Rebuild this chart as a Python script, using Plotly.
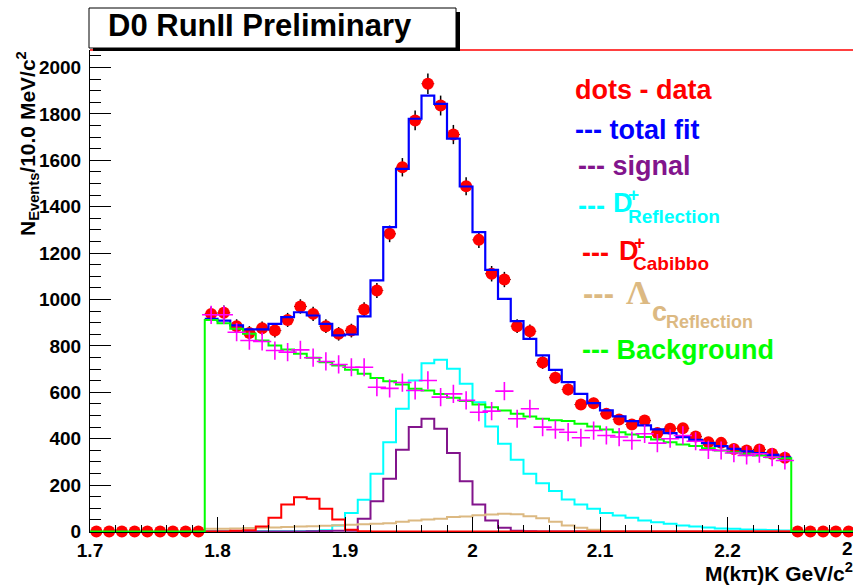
import math
import plotly.graph_objects as go

# ---------------- data ----------------
bin_width = 0.01
full_lo = 1.70                      # first bin edge of the data histogram
fit_lo = 1.79                       # first bin edge of the fitted range

# data counts, 60 bins from 1.70 to 2.30
data_counts = [0, 0, 0, 0, 0, 0, 0, 0, 0,
               938, 943, 885, 856, 876, 866, 912, 970, 938, 885,
               852, 866, 957, 1039, 1283, 1570, 1772, 1930, 1836, 1711,
               1488, 1257, 1111, 1086, 885, 863, 728, 663, 612, 547,
               553, 507, 483, 461, 478, 424, 443, 445, 409, 385,
               382, 356, 349, 353, 335, 318,
               0, 0, 0, 0, 0]

# fitted components, 46 bins from 1.79 to 2.25
total_fit = [917, 909, 888, 871, 871, 895, 924, 945, 931, 895,
             845, 849, 927, 1082, 1312, 1563, 1779, 1879, 1843, 1693,
             1487, 1290, 1128, 1003, 907, 830, 759, 697, 644, 593,
             553, 522, 496, 476, 457, 440, 424, 407, 395, 381,
             368, 356, 345, 338, 330, 320]

signal = [0, 0, 0, 0, 0, 0, 0, 0, 1, 2,
          3, 3, 55, 130, 227, 352, 450, 486, 443, 338,
          217, 116, 47, 16, 3, 1, 0, 0, 0, 0,
          0, 0, 0, 0, 0, 0, 0, 0, 0, 0,
          0, 0, 0, 0, 0, 0]

dplus_reflection = [0, 0, 1, 1, 1, 1, 1, 1, 2, 5,
                    26, 80, 137, 249, 385, 529, 651, 725, 740, 701,
                    637, 557, 453, 378, 309, 249, 208, 175, 138, 116,
                    98, 80, 69, 59, 47, 40, 33, 26, 22, 17,
                    13, 12, 9, 7, 6, 4]

dplus_cabibbo = [0, 0, 3, 5, 22, 59, 116, 148, 141, 98,
                 52, 7, 1, 0, 0, 0, 0, 0, 0, 0,
                 0, 0, 0, 0, 0, 0, 0, 0, 0, 0,
                 0, 0, 0, 0, 0, 0, 0, 0, 0, 0,
                 0, 0, 0, 0, 0, 0]

lambda_c_reflection = [12, 12, 13, 15, 16, 17, 19, 21, 23, 25,
                       27, 29, 31, 33, 35, 42, 47, 52, 55, 62,
                       65, 70, 73, 76, 74, 66, 57, 42, 26, 16,
                       7, 2, 0, 0, 0, 0, 0, 0, 0, 0,
                       0, 0, 0, 0, 0, 0]

# background, 60 bins from 1.70 to 2.30 (zero outside the fit range)
background = [0, 0, 0, 0, 0, 0, 0, 0, 0,
              912, 898, 874, 852, 823, 802, 784, 766, 749, 730,
              716, 697, 680, 662, 648, 634, 615, 608, 593, 576,
              562, 547, 536, 522, 507, 496, 486, 480, 476, 464,
              453, 440, 428, 418, 407, 397, 385, 375, 368, 359,
              349, 342, 335, 328, 320, 316,
              0, 0, 0, 0, 0]

# background-subtracted points (magenta crosses), 46 bins from 1.79
subtracted = [934, 934, 859, 823, 819, 780, 773, 783, 749, 733,
              720, 708, 708, 622, 617, 642, 608, 651, 579, 593,
              565, 514, 519, 605, 486, 529, 450, 439, 428, 404,
              435, 414, 407, 392, 421, 381, 400, 414, 389, 352,
              349, 338, 328, 335, 320, 306]

x_tick_vals = [1.7, 1.8, 1.9, 2.0, 2.1, 2.2]
x_tick_text = ["1.7", "1.8", "1.9", "2", "2.1", "2.2"]
y_tick_vals = [0, 200, 400, 600, 800, 1000, 1200, 1400, 1600, 1800, 2000]

# ---------------- layout geometry ----------------
W, H = 853, 586
L, R, T, B = 90, 0, 50, 54
X_RANGE = [1.70, 1.70 + (W - L - R) / 1275.0]
Y_RANGE = [-2.2, 2075.4]

FONT = "Liberation Sans"
RED, BLUE, PURPLE = "#ff0000", "#0000ff", "#82148c"
CYAN, TAN, GREEN, MAGENTA = "#00ffff", "#dcb982", "#00ff00", "#ff00ff"


def px(xp):
    return (xp - L) / (W - L - R)


def py(yp):
    return (H - B - yp) / (H - T - B)


def centers(lo, n):
    return [lo + bin_width * (i + 0.5) for i in range(n)]


def step(lo, vals):
    xs = [lo + bin_width * i for i in range(len(vals) + 1)]
    ys = list(vals) + [vals[-1]]
    return xs, ys


fig = go.Figure()

# data points with errors
xc_full = centers(full_lo, len(data_counts))
fig.add_trace(go.Scatter(
    x=xc_full, y=data_counts, mode="markers",
    marker=dict(color=RED, size=12, line=dict(width=0)),
    error_y=dict(type="data", array=[math.sqrt(v) for v in data_counts],
                 color="black", thickness=1.5, width=0),
    error_x=dict(type="data", array=[bin_width / 2 if v > 0 else 0 for v in data_counts],
                 color="black", thickness=1, width=0),
    cliponaxis=False, showlegend=False))

def add_hist(lo, vals, color, width=2):
    xs, ys = step(lo, vals)
    fig.add_trace(go.Scatter(x=xs, y=ys, mode="lines", line_shape="hv",
                             line=dict(color=color, width=width),
                             showlegend=False, hoverinfo="skip"))

add_hist(fit_lo, total_fit, BLUE, 2.2)
add_hist(fit_lo, dplus_reflection, CYAN, 2)
add_hist(fit_lo, signal, PURPLE, 2)
add_hist(fit_lo, lambda_c_reflection, TAN, 2)
add_hist(fit_lo, dplus_cabibbo, RED, 2)
add_hist(full_lo, background, GREEN, 2)

fig.add_trace(go.Scatter(
    x=centers(fit_lo, len(subtracted)), y=subtracted, mode="markers",
    marker=dict(symbol="cross-thin", size=13, line=dict(color=MAGENTA, width=1.6)),
    cliponaxis=False, showlegend=False))

# ---------------- axes ----------------
tickfont = dict(family=FONT, size=19, color="black", weight="bold")
fig.update_xaxes(range=X_RANGE, showgrid=False, zeroline=False,
                 showline=True, linecolor="black", linewidth=1, mirror=False,
                 tickmode="array", tickvals=x_tick_vals, ticktext=x_tick_text,
                 ticks="inside", ticklen=15, tickwidth=1, tickcolor="black",
                 minor=dict(dtick=0.02, tick0=1.7, ticks="inside", ticklen=7,
                            tickwidth=1, tickcolor="black", showgrid=False),
                 tickfont=tickfont, ticklabelstandoff=1)
fig.update_yaxes(range=Y_RANGE, showgrid=False, zeroline=False,
                 showline=True, linecolor="black", linewidth=1,
                 tickmode="array", tickvals=y_tick_vals,
                 ticks="inside", ticklen=21, tickwidth=1, tickcolor="black",
                 minor=dict(dtick=50, tick0=0, ticks="inside", ticklen=11,
                            tickwidth=1, tickcolor="black", showgrid=False),
                 tickfont=tickfont, ticklabelstandoff=4)

# ---------------- decorations ----------------
shapes = [
    # red top frame line
    dict(type="line", xref="paper", yref="paper", x0=px(90), x1=px(853),
         y0=py(50), y1=py(50), line=dict(color=RED, width=1.5)),
    # title box shadow
    dict(type="rect", xref="paper", yref="paper", x0=px(93), x1=px(460),
         y0=py(51), y1=py(12), fillcolor="black", line=dict(width=0)),
    # title box
    dict(type="rect", xref="paper", yref="paper", x0=px(89), x1=px(456),
         y0=py(48), y1=py(8), fillcolor="white",
         line=dict(color="black", width=1)),
]

annotations = []

def ann(text, x, y, color="black", size=26, xanchor="left", yanchor="middle",
        family=FONT, weight="bold", angle=0):
    annotations.append(dict(text=text, x=px(x), y=py(y), xref="paper", yref="paper",
                            xanchor=xanchor, yanchor=yanchor, showarrow=False,
                            textangle=angle, borderpad=0,
                            font=dict(family=family, size=size, color=color,
                                      weight=weight)))

ann("D0 RunII Preliminary", 107, 26, size=31)

# legend block
ann("dots - data", 574, 90, RED, 27)
ann("--- total fit", 574, 130, BLUE, 27)
ann("--- signal", 577, 166, PURPLE, 27)
ann("---", 577, 206, CYAN, 27)
ann("D", 612, 203, CYAN, 27)
ann("+", 633, 194, CYAN, 19, xanchor="center")
ann("Reflection", 627, 216, CYAN, 19)
ann("---", 581, 253, RED, 27)
ann("D", 618, 251, RED, 27)
ann("+", 639, 242, RED, 19, xanchor="center")
ann("Cabibbo", 632, 263, RED, 19)
ann("---", 582, 293, TAN, 31)
ann("Λ", 625, 292, TAN, 34, family="Liberation Serif", weight="bold")
ann("c", 651, 312, TAN, 27)
ann("Reflection", 665, 322, TAN, 18)
ann("--- Background", 581, 350, GREEN, 27)

# axis titles
ann("M(kπ)K GeV/c<sup>2</sup>", 854, 572, "black", 21, xanchor="right")
ann("N<sub>Events</sub>/10.0 MeV/c<sup>2</sup>", 27, 144, "black", 21,
    xanchor="center", angle=-90)
# tick label of 2.3, partly outside the window as in the reference
ann("2.3", 855, 548, "black", 19, xanchor="center")

fig.update_layout(width=W, height=H, margin=dict(l=L, r=R, t=T, b=B, autoexpand=False),
                  paper_bgcolor="white", plot_bgcolor="white",
                  shapes=shapes, annotations=annotations, showlegend=False)

fig.write_html("out.html")
